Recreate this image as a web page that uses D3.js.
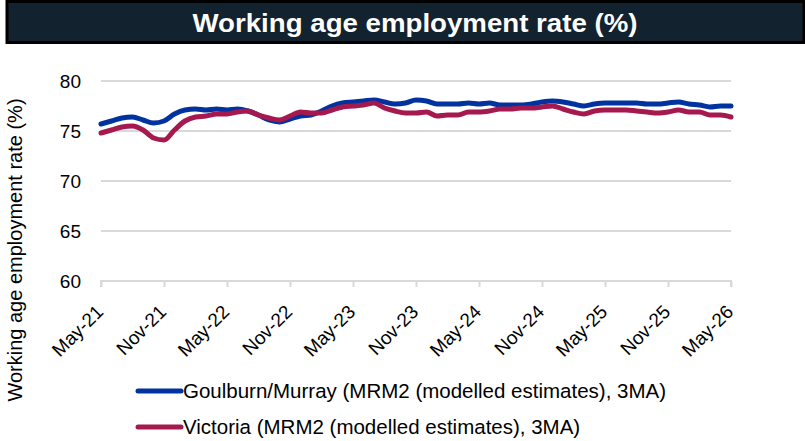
<!DOCTYPE html>
<html><head><meta charset="utf-8">
<script src="https://cdn.jsdelivr.net/npm/d3@7"></script>
<style>body{margin:0;background:#fff;}svg{display:block;font-family:"Liberation Sans",Arial,sans-serif;}</style>
</head><body>
<svg id="c" width="805" height="441"></svg>
<script>
const startMonth = new Date(2021, 4, 1);
const monthCount = 61;
const tickLabels = ["May-21","Nov-21","May-22","Nov-22","May-23","Nov-23","May-24","Nov-24","May-25","Nov-25","May-26"];
const yTicks = [60, 65, 70, 75, 80];
const seriesNames = ["Goulburn/Murray (MRM2 (modelled estimates), 3MA)", "Victoria (MRM2 (modelled estimates), 3MA)"];
const goulburnMurray = [75.7,76.0,76.3,76.4,76.1,75.8,76.0,76.7,77.1,77.2,77.1,77.2,77.1,77.2,77.0,76.6,76.1,75.9,76.2,76.5,76.6,77.0,77.5,77.8,77.9,78.0,78.1,77.9,77.7,77.8,78.1,78.0,77.7,77.7,77.7,77.8,77.7,77.8,77.6,77.6,77.6,77.7,77.9,78.0,77.9,77.7,77.5,77.7,77.8,77.8,77.8,77.8,77.7,77.7,77.8,77.9,77.7,77.6,77.4,77.5,77.5];
const victoria = [74.8,75.1,75.4,75.5,75.1,74.3,74.1,75.1,76.0,76.4,76.5,76.7,76.7,76.9,77.0,76.6,76.3,76.1,76.5,76.9,76.8,76.8,77.1,77.4,77.5,77.6,77.8,77.3,77.0,76.8,76.8,76.9,76.5,76.6,76.6,76.9,76.9,77.0,77.2,77.2,77.3,77.3,77.4,77.5,77.2,76.9,76.7,77.0,77.1,77.1,77.1,77.0,76.9,76.8,76.9,77.1,76.9,76.9,76.6,76.6,76.4];
const colors = ["#0033a0", "#a6194f"];

const svg = d3.select("#c");
// Title bar
svg.append("rect").attr("x", 7).attr("y", 1.5).attr("width", 797).attr("height", 41)
  .attr("fill", "#13222f").attr("stroke", "#000").attr("stroke-width", 3);
svg.append("text").attr("x", 415).attr("y", 32).attr("text-anchor", "middle")
  .attr("fill", "#fff").attr("font-weight", "bold").attr("font-size", 26)
  .attr("textLength", 445).attr("lengthAdjust", "spacingAndGlyphs")
  .text("Working age employment rate (%)");

const x = d3.scaleLinear().domain([0, monthCount - 1]).range([101, 731]);
const y = d3.scaleLinear().domain([60, 80]).range([281, 81]);

// gridlines
svg.append("g").selectAll("line").data(yTicks.filter(d => d > 60)).join("line")
  .attr("x1", 101).attr("x2", 731).attr("y1", d => y(d)).attr("y2", d => y(d))
  .attr("stroke", "#d9d9d9").attr("stroke-width", 2);

// y axis labels
const yAxis = d3.axisLeft(y).tickValues(yTicks).tickSize(0).tickPadding(20);
const gy = svg.append("g").attr("transform", "translate(101,0)").call(yAxis);
gy.select(".domain").remove();
gy.selectAll("text").attr("font-size", 19).attr("fill", "#000").attr("font-family", "Liberation Sans, Arial, sans-serif");

// x axis
const tickIdx = tickLabels.map((_, i) => i * 6);
const xAxis = d3.axisBottom(x).tickValues(tickIdx).tickSize(6).tickFormat((d, i) => tickLabels[i]);
const gx = svg.append("g").attr("transform", `translate(0,${y(60)})`).call(xAxis);
gx.select(".domain").attr("stroke", "#d9d9d9").attr("stroke-width", 2).attr("d", `M101,6V0H731V6`);
gx.selectAll(".tick line").attr("stroke", "#d9d9d9").attr("stroke-width", 2);
gx.selectAll("text").attr("font-size", 19).attr("fill", "#000")
  .attr("font-family", "Liberation Sans, Arial, sans-serif")
  .attr("text-anchor", "end").attr("dy", null)
  .attr("transform", "translate(3,32) rotate(-45)").attr("y", 0).attr("x", 0);

// y axis title
svg.append("text").attr("transform", "translate(22,250) rotate(-90)").attr("text-anchor", "middle")
  .attr("font-size", 20).attr("fill", "#000").text("Working age employment rate (%)");

// lines
const line = d3.line().x((d, i) => x(i)).y(d => y(d)).curve(d3.curveMonotoneX);
[goulburnMurray, victoria].forEach((s, k) => {
  svg.append("path").attr("d", line(s)).attr("fill", "none")
    .attr("stroke", colors[k]).attr("stroke-width", 5).attr("stroke-linejoin", "round").attr("stroke-linecap", "round");
});

// legend
const leg = svg.append("g");
seriesNames.forEach((n, k) => {
  const ly = 391 + k * 36;
  leg.append("line").attr("x1", 138).attr("x2", 181).attr("y1", ly).attr("y2", ly)
    .attr("stroke", colors[k]).attr("stroke-width", 5).attr("stroke-linecap", "round");
  leg.append("text").attr("x", 183).attr("y", ly + 7).attr("font-size", 20.5).attr("fill", "#000").text(n);
});
</script>
</body></html>
